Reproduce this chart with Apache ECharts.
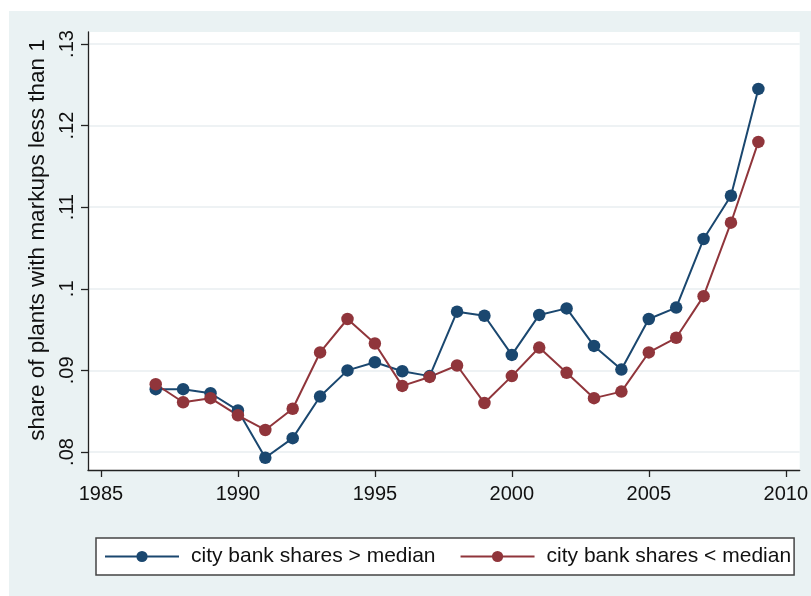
<!DOCTYPE html>
<html>
<head>
<meta charset="utf-8">
<script src="https://cdn.jsdelivr.net/npm/echarts@6/dist/echarts.min.js"></script>
<style>
html,body{margin:0;padding:0;background:#fff;}
#bg{position:absolute;left:9px;top:11px;width:802px;height:585px;background:#eaf2f3;}
#chart{position:absolute;left:0;top:0;width:811px;height:596px;}
</style>
</head>
<body>
<div id="bg"></div>
<div id="chart"></div>
<script>
const years = [1987,1988,1989,1990,1991,1992,1993,1994,1995,1996,1997,1998,1999,2000,2001,2002,2003,2004,2005,2006,2007,2008,2009];
const aboveMedian = [.0877,.0877,.0872,.0851,.0793,.0817,.0868,.0900,.0910,.0899,.0893,.0972,.0967,.0919,.0968,.0976,.0930,.0901,.0963,.0977,.1061,.1114,.1245];
const belowMedian = [.0883,.0861,.0866,.0845,.0827,.0853,.0922,.0963,.0933,.0881,.0892,.0906,.0860,.0893,.0928,.0897,.0866,.0874,.0922,.0940,.0991,.1081,.1180];
const xTicks = [1985,1990,1995,2000,2005,2010];
const yTicks = [.08,.09,.10,.11,.12,.13];
const yTickLabels = ['.08','.09','.1','.11','.12','.13'];
const seriesNames = ['city bank shares > median','city bank shares < median'];
const yTitle = 'share of plants with markups less than 1';

const FONT = "'Liberation Sans', Arial, sans-serif";
const chart = echarts.init(document.getElementById('chart'), null, {renderer:'canvas'});
const pair = (xs, ys) => xs.map((x,i)=>[x, ys[i]]);
chart.setOption({
  animation:false,
  backgroundColor:'transparent',
  grid:{left:88,right:9,top:32,bottom:126,show:true,backgroundColor:'#fff',borderWidth:0,containLabel:false},
  xAxis:{
    type:'value', min:1984.527, max:2010.51,
    axisLine:{show:true,lineStyle:{color:'#222',width:1.3}},
    axisTick:{show:true,length:7,customValues:xTicks,lineStyle:{color:'#222',width:1.3}},
    axisLabel:{customValues:xTicks,margin:14,fontSize:20,fontFamily:FONT,color:'#111',
      formatter:(v)=>String(Math.round(v))},
    splitLine:{show:false}
  },
  yAxis:{
    type:'value', min:0.077794, max:0.131471,
    name:yTitle, nameLocation:'middle', nameRotate:90, nameGap:21,
    nameTextStyle:{fontSize:22.5,fontFamily:FONT,color:'#111',padding:[0,0,0,22]},
    axisLine:{show:true,lineStyle:{color:'#222',width:1.3}},
    axisTick:{show:true,length:7,customValues:yTicks,lineStyle:{color:'#222',width:1.3}},
    axisLabel:{customValues:yTicks,rotate:90,margin:11,fontSize:20,fontFamily:FONT,color:'#111',
      formatter:(v)=>{const i=yTicks.findIndex(t=>Math.abs(t-v)<1e-9);return i>=0?yTickLabels[i]:'';}},
    splitLine:{show:true,lineStyle:{color:'#e8eef0',width:1.5}}
  },
  legend:{
    left:96, top:538, orient:'horizontal',
    padding:[8,3,8,8], itemGap:24, itemWidth:74, itemHeight:14,
    backgroundColor:'#fff', borderColor:'#444', borderWidth:1.5,
    textStyle:{fontSize:21,fontFamily:FONT,color:'#111',padding:[0,0,0,7]},
    data:seriesNames
  },
  series:[
    {name:seriesNames[0],type:'line',data:pair(years,aboveMedian),symbol:'circle',symbolSize:12.5,
     itemStyle:{color:'#1a476f'},lineStyle:{color:'#1a476f',width:2}},
    {name:seriesNames[1],type:'line',data:pair(years,belowMedian),symbol:'circle',symbolSize:12.5,
     itemStyle:{color:'#90353b'},lineStyle:{color:'#90353b',width:2}}
  ]
});
</script>
</body>
</html>
